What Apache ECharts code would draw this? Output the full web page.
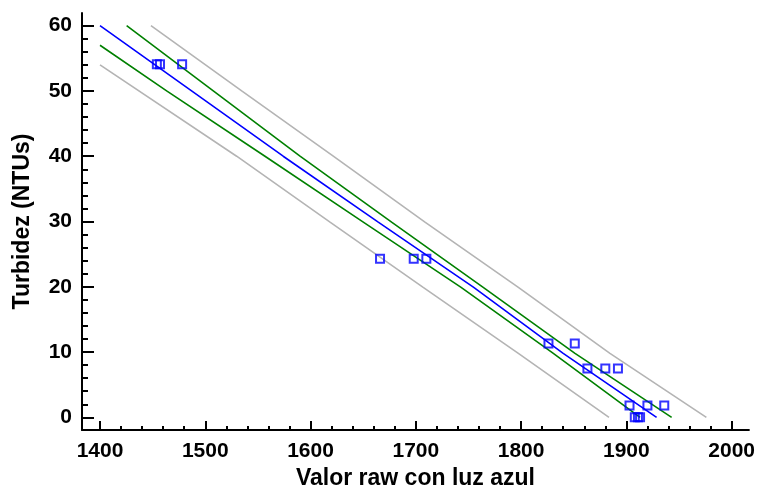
<!DOCTYPE html>
<html><head><meta charset="utf-8">
<script src="https://cdn.jsdelivr.net/npm/echarts@6/dist/echarts.min.js"></script>
<style>html,body{margin:0;padding:0;background:#fff}#c{width:758px;height:495px}</style>
</head><body><div id="c"></div>
<script>
// Tick values
const xMajorTicks = [1400, 1500, 1600, 1700, 1800, 1900, 2000];
const xMinorTicks = [1420,1440,1460,1480,1520,1540,1560,1580,1620,1640,1660,1680,1720,1740,1760,1780,1820,1840,1860,1880,1920,1940,1960,1980];
const yMajorTicks = [0, 10, 20, 30, 40, 50, 60];
const yMinorTicks = [2,4,6,8,12,14,16,18,22,24,26,28,32,34,36,38,42,44,46,48,52,54,56,58];

// Observations
const obsX = [1454, 1457, 1478, 1666, 1698, 1710, 1826, 1851, 1863, 1880, 1892, 1903, 1920, 1936, 1908, 1911, 1913];
const obsY = [54.1, 54.1, 54.1, 24.3, 24.3, 24.3, 11.3, 11.3, 7.5, 7.5, 7.5, 1.8, 1.8, 1.8, 0, 0, 0];

// Fitted line
const fitX = [1400, 1487, 1574, 1664.3, 1755, 1840, 1928.7];
const fitY = [60, 50, 40, 29.9, 19.9, 9.8, 0];

// Confidence limits (green)
const confUpX = [1425.3, 1507.6, 1590, 1677, 1764, 1851.2, 1943];
const confUpY = [60, 50, 40, 29.9, 19.9, 9.8, 0];
const confLoX = [1400, 1463.3, 1556.7, 1650.1, 1743, 1830.6, 1913];
const confLoY = [57, 50, 40, 29.9, 19.9, 9.8, 0];

// Prediction limits (gray)
const predUpX = [1448.4, 1534.6, 1621.6, 1708.7, 1797.4, 1884.4, 1976];
const predUpY = [60, 50, 40, 29.9, 19.9, 9.8, 0];
const predLoX = [1400, 1529.8, 1618.5, 1707, 1797.4, 1883.5];
const predLoY = [54, 40, 29.9, 19.9, 9.8, 0];

const zip = (xs, ys) => xs.map((x, i) => [x, ys[i]]);

const xMin = 1382.9, xMax = 2016.4, yMin = -1.94, yMax = 61.94;
const font = '"Liberation Sans", Arial, sans-serif';

const lineSeries = (name, xs, ys, color) => ({
  name, type: 'line', data: zip(xs, ys), showSymbol: false, symbol: 'none',
  lineStyle: { color, width: 1.6 }, z: 2, silent: true
});

const chart = echarts.init(document.getElementById('c'));
chart.setOption({
  animation: false,
  backgroundColor: '#fff',
  grid: { left: 82, right: 9, top: 13, bottom: 63, containLabel: false },
  xAxis: [{
    type: 'value', min: xMin, max: xMax, position: 'bottom',
    name: 'Valor raw con luz azul', nameLocation: 'middle', nameGap: 37,
    nameTextStyle: { fontFamily: font, fontWeight: 'bold', fontSize: 23, color: '#000' },
    axisLine: { show: true, onZero: false, lineStyle: { color: '#000', width: 2 } },
    axisTick: { show: true, inside: true, length: 9, customValues: xMajorTicks, lineStyle: { color: '#000', width: 2 } },
    axisLabel: { customValues: xMajorTicks, formatter: v => String(v), margin: 11, fontFamily: font, fontWeight: 'bold', fontSize: 21, color: '#000' },
    splitLine: { show: false }
  }, {
    type: 'value', min: xMin, max: xMax, position: 'bottom',
    axisLine: { show: false, onZero: false },
    axisTick: { show: true, inside: true, length: 4, customValues: xMinorTicks, lineStyle: { color: '#000', width: 2 } },
    axisLabel: { show: false },
    splitLine: { show: false }
  }],
  yAxis: [{
    type: 'value', min: yMin, max: yMax, position: 'left',
    name: 'Turbidez (NTUs)', nameLocation: 'middle', nameGap: 48,
    nameTextStyle: { fontFamily: font, fontWeight: 'bold', fontSize: 23, color: '#000' },
    axisLine: { show: true, onZero: false, lineStyle: { color: '#000', width: 2 } },
    axisTick: { show: true, inside: true, length: 12, customValues: yMajorTicks, lineStyle: { color: '#000', width: 2 } },
    axisLabel: { customValues: yMajorTicks, formatter: v => String(v), margin: 10, fontFamily: font, fontWeight: 'bold', fontSize: 21, color: '#000' },
    splitLine: { show: false }
  }, {
    type: 'value', min: yMin, max: yMax, position: 'left',
    axisLine: { show: false, onZero: false },
    axisTick: { show: true, inside: true, length: 6, customValues: yMinorTicks, lineStyle: { color: '#000', width: 2 } },
    axisLabel: { show: false },
    splitLine: { show: false }
  }],
  series: [
    lineSeries('Predicción sup.', predUpX, predUpY, '#b4b4b4'),
    lineSeries('Predicción inf.', predLoX, predLoY, '#b4b4b4'),
    lineSeries('Confianza sup.', confUpX, confUpY, '#008000'),
    lineSeries('Confianza inf.', confLoX, confLoY, '#008000'),
    lineSeries('Ajuste', fitX, fitY, '#0000ff'),
    {
      name: 'Observado', type: 'scatter', data: zip(obsX, obsY),
      symbol: 'rect', symbolSize: 8, z: 5,
      itemStyle: { color: 'rgba(255,255,255,0)', borderColor: '#0000ff', borderWidth: 2 }
    }
  ]
});
</script>
</body></html>
